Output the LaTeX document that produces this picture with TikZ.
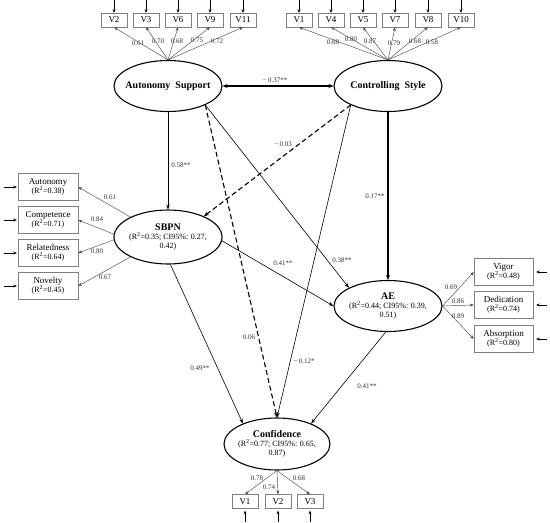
\documentclass[tikz,border=0pt]{standalone}
\usepackage{fontspec}
\setmainfont{Liberation Serif}
\usetikzlibrary{shapes.geometric,arrows.meta}

\begin{document}
\begin{tikzpicture}[x=1pt,y=-1pt,
  latent/.style={ellipse,draw,line width=1.1pt,minimum width=108pt,minimum height=51pt,inner sep=0pt},
  ltext/.style={align=center,inner sep=0pt,font=\fontsize{8}{9}\selectfont},
  item/.style={draw=gray,minimum width=26pt,minimum height=14pt,inner sep=0pt,font=\fontsize{9}{10}\selectfont},
  facet/.style={draw=gray,minimum width=60pt,minimum height=27pt,inner sep=0pt,align=center,font=\fontsize{9}{10}\selectfont},
  load/.style={draw=gray!60!black,line width=0.45pt,-{Stealth[length=4pt,width=3pt]}},
  effect/.style={line width=0.6pt,-{Stealth[length=5pt,width=3.5pt]}},
  strong/.style={line width=1.1pt,-{Stealth[length=5pt,width=4pt]}},
  nonsig/.style={line width=1.1pt,dashed,dash pattern=on 5pt off 3pt,-{Stealth[length=5pt,width=4pt]}},
  err/.style={line width=0.5pt,-{Stealth[length=3.5pt,width=3pt]}},
  coef/.style={inner sep=0pt,text=black!80,font=\fontsize{7}{8}\selectfont},
]
  \useasboundingbox (0,0) rectangle (550,523);

  % Latent variables
  \node[latent] (as) at (168,86) {};
  \node[ltext,font=\fontsize{10}{12}\selectfont\bfseries] at (as) {Autonomy\ \ Support};
  \node[latent] (cs) at (388,86) {};
  \node[ltext,font=\fontsize{10}{12}\selectfont\bfseries] at (cs) {Controlling\ \ Style};
  \node[latent,minimum height=54pt] (sbpn) at (168,237) {};
  \node[ltext] at (sbpn) {{\fontsize{10}{12}\selectfont\bfseries SBPN}\\(R\textsuperscript{2}=0.35; CI95\%: 0.27,\\0.42)};
  \node[latent] (ae) at (388,306) {};
  \node[ltext] at (ae) {{\fontsize{10}{12}\selectfont\bfseries AE}\\(R\textsuperscript{2}=0.44; CI95\%: 0.39,\\0.51)};
  \node[latent,minimum width=106pt,minimum height=52pt] (conf) at (277,444) {};
  \node[ltext] at (conf) {{\fontsize{10}{12}\selectfont\bfseries Confidence}\\(R\textsuperscript{2}=0.77; CI95\%: 0.65,\\0.87)};

  % Items of autonomy support
  \foreach \n/\x/\c/\lx/\ly in {V2/114/0.61/138/43, V3/146/0.70/158/41, V6/178/0.68/177/41,
                                V9/210/0.75/197/40, V11/243/0.72/217/41} {
    \node[item] (a\n) at (\x,20) {\n};
    \coordinate (ea\n) at (\x,0);
    \draw[err] (ea\n) -- (a\n.north);
    \draw[load] (as.north) -- (a\n.south);
    \node[coef] (la\n) at (\lx,\ly) {\c};
  }

  % Items of controlling style
  \foreach \n/\x/\c/\lx/\ly in {V1/299/0.68/333/42, V4/331/0.80/351/39, V5/363/0.87/370/41,
                                V7/395/0.79/394/43, V8/428/0.68/415/41, V10/461/0.58/432/42} {
    \node[item] (c\n) at (\x,20) {\n};
    \coordinate (ec\n) at (\x,0);
    \draw[err] (ec\n) -- (c\n.north);
    \draw[load] (cs.north) -- (c\n.south);
    \node[coef] (lc\n) at (\lx,\ly) {\c};
  }

  % Needs satisfaction facets
  \foreach \n/\t/\r/\y/\a/\c/\lx/\ly in {aut/Autonomy/0.38/187/152/0.61/110/197,
      com/Competence/0.71/220/177/0.84/97/219,
      rel/Relatedness/0.64/253/183/0.80/97/251,
      nov/Novelty/0.45/286/208/0.67/105/277} {
    \node[facet] (\n) at (48,\y) {\t\\[-1pt]{\fontsize{8}{9}\selectfont(R\textsuperscript{2}=\r)}};
    \coordinate (e\n) at (4,\y);
    \draw[err] (e\n) -- ([xshift=-1pt]\n.west);
    \draw[load] (sbpn.\a) -- (\n.east);
    \node[coef] (l\n) at (\lx,\ly) {\c};
  }

  % Engagement facets
  \foreach \n/\t/\r/\y/\c/\lx/\ly in {vig/Vigor/0.48/272/0.69/451/287,
      ded/Dedication/0.74/305/0.86/458/301,
      abs/Absorption/0.80/339/0.89/458/316} {
    \node[facet,minimum width=59pt] (\n) at (503.5,\y) {\t\\[-1pt]{\fontsize{8}{9}\selectfont(R\textsuperscript{2}=\r)}};
    \coordinate (e\n) at (547,\y);
    \draw[err] (e\n) -- ([xshift=3pt]\n.east);
    \draw[load] (ae.east) -- (\n.west);
    \node[coef] (l\n) at (\lx,\ly) {\c};
  }

  % Items of confidence
  \foreach \n/\x/\c/\lx/\ly in {V1/245/0.78/257/478, V2/278/0.74/269/487, V3/310/0.68/299/478} {
    \node[item] (f\n) at (\x,501.5) {\n};
    \coordinate (ef\n) at (\x,522);
    \draw[err] (ef\n) -- ([yshift=-2pt]f\n.south);
    \draw[load] (conf.south) -- (f\n.north);
    \node[coef] (lf\n) at (\lx,\ly) {\c};
  }

  % Structural paths
  \draw[line width=1.1pt,{Stealth[length=5pt,width=4pt]}-{Stealth[length=5pt,width=4pt]}] (as.east) -- (cs.west);
  \node[coef] (l37) at (275,80) {− 0.37**};
  \draw[effect] (as.south) -- (sbpn.north);
  \node[coef] (l58) at (181,165) {0.58**};
  \draw[strong] (cs.south) -- (ae.north);
  \node[coef] (l17) at (375,196) {0.17**};
  \draw[nonsig] (cs.207) -- (sbpn.30);
  \node[coef] (l03) at (283,144) {− 0.03};
  \draw[effect] (as.-27) -- (ae.155);
  \node[coef] (l38) at (342,260) {0.38**};
  \draw[effect] (sbpn.-4) -- (ae.west);
  \node[coef] (l41a) at (283,263) {0.41**};
  \draw[nonsig] (as.-27) -- (conf.north);
  \node[coef] (l06) at (249,337) {0.06};
  \draw[effect] (cs.207) -- (conf.north);
  \node[coef] (l12) at (304,361) {− 0.12*};
  \draw[effect] (sbpn.-85) -- (conf.149);
  \node[coef] (l49) at (200,368) {0.49**};
  \draw[effect] (ae.-95) -- (conf.31);
  \node[coef] (l41b) at (367,386) {0.41**};
\end{tikzpicture}
\end{document}
